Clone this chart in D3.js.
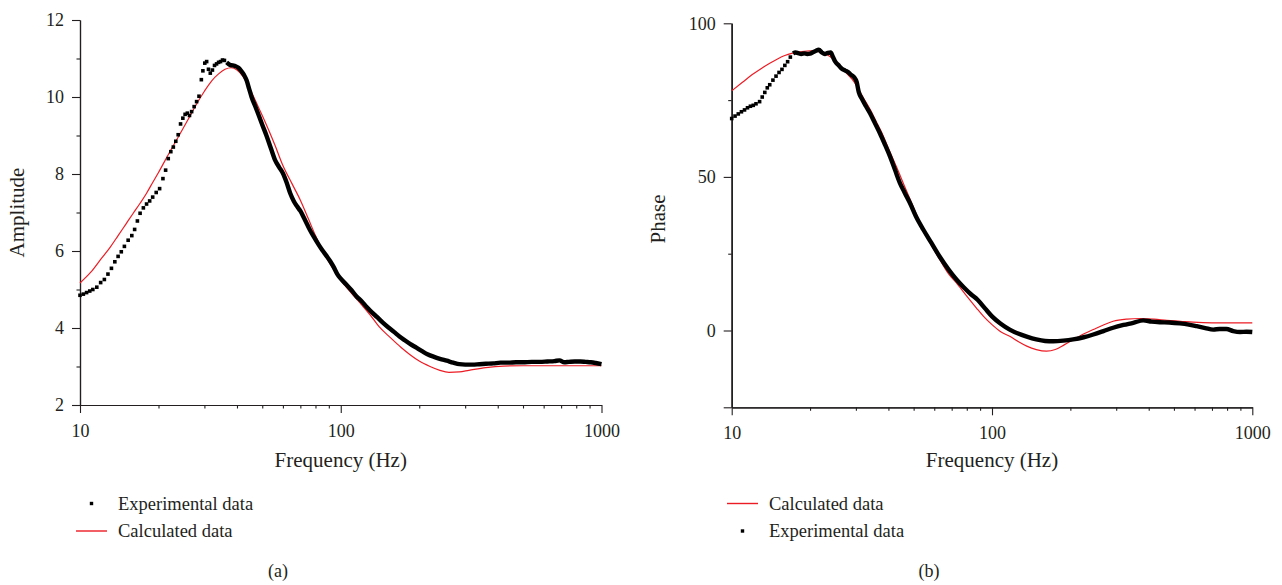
<!DOCTYPE html>
<html>
<head>
<meta charset="utf-8">
<script src="https://cdn.jsdelivr.net/npm/d3@7"></script>
<style>
  body { margin: 0; background: #fff; }
  text { font-family: "Liberation Serif", "DejaVu Serif", serif; fill: #231f20; }
</style>
</head>
<body>
<svg id="chart" width="1282" height="585"></svg>
<script>
// ---- data ----
// (a) amplitude, experimental
const ampExpFreq = [10.0,10.3,10.6,10.9,11.2,11.6,12.0,12.4,12.8,13.2,13.6,14.0,14.4,14.8,15.3,15.8,16.2,16.6,17.0,17.5,18.0,18.5,19.0,19.6,20.2,20.8,21.3,21.8,22.3,22.8,23.3,23.8,24.3,24.8,25.3,25.8,26.3,26.8,27.4,28.0,28.6,29.2,29.6,30.1,30.6,31.1,31.6,32.2,32.8,33.4,34.0,34.6,35.2,35.8,
  36.5,37.5,38.5,39.5,40.5,41.5,42.5,43.5,44.5,45.5,47,48.5,50,52,54,56,58,60,62,64,66,68,70,73,76,79,82,85,88,91,94,97,100,105,110,115,120,126,132,138,145,152,160,168,176,185,195,205,215,228,240,255,270,285,300,320,340,360,385,410,440,470,500,540,580,620,660,690,720,750,790,830,870,910,950,1000];
const ampExpVal = [4.85,4.88,4.92,4.96,5.00,5.06,5.18,5.26,5.40,5.55,5.72,5.86,5.98,6.12,6.28,6.40,6.56,6.78,6.98,7.12,7.22,7.30,7.40,7.52,7.62,7.88,8.10,8.40,8.58,8.70,8.85,9.02,9.30,9.45,9.55,9.58,9.52,9.62,9.75,9.88,10.02,10.45,10.68,10.88,10.92,10.72,10.62,10.70,10.82,10.86,10.90,10.92,10.96,10.95,
  10.90,10.84,10.82,10.80,10.76,10.68,10.58,10.44,10.22,10.00,9.76,9.52,9.28,8.98,8.66,8.36,8.18,8.02,7.78,7.50,7.30,7.16,7.04,6.80,6.56,6.36,6.18,6.02,5.88,5.74,5.58,5.40,5.28,5.13,4.98,4.82,4.70,4.54,4.40,4.28,4.14,4.02,3.90,3.78,3.68,3.58,3.49,3.40,3.32,3.25,3.20,3.15,3.10,3.06,3.05,3.05,3.06,3.07,3.08,3.10,3.10,3.11,3.11,3.12,3.12,3.13,3.14,3.16,3.11,3.12,3.13,3.13,3.12,3.11,3.09,3.06];
// (a) amplitude, calculated
const ampCalcFreq = [10,11,12,13,14,15,16,17,18,19,20,22,24,26,28,30,32,34,36,38,40,42,44,46,48,50,53,56,60,65,70,75,80,85,90,95,100,110,120,130,140,155,170,185,200,220,240,260,285,310,360,420,500,700,1000];
const ampCalcVal = [5.17,5.45,5.78,6.08,6.40,6.70,6.98,7.24,7.50,7.78,8.04,8.55,9.00,9.42,9.82,10.15,10.42,10.60,10.72,10.76,10.70,10.55,10.32,10.05,9.78,9.52,9.13,8.74,8.22,7.75,7.32,6.85,6.40,6.02,5.72,5.46,5.24,4.90,4.61,4.33,4.04,3.75,3.50,3.30,3.14,3.00,2.90,2.85,2.86,2.90,2.97,3.01,3.02,3.02,3.02];

// (b) phase, experimental
const phExpFreq = [10.0,10.3,10.6,10.9,11.2,11.5,11.8,12.1,12.4,12.8,13.1,13.4,13.7,14.0,14.4,14.8,15.2,15.6,16.0,16.4,16.8,
  17.2,17.6,18.0,18.5,19.0,19.5,20.0,20.5,21.0,21.6,22.2,22.8,23.4,24.0,24.5,25.0,25.7,26.5,27.3,28.0,28.8,29.5,30.2,30.8,31.6,32.8,34.0,35.5,37.1,38.8,40.6,42.4,44.3,46.3,48.4,51,54.5,58.5,63,68,73,78,83,88,94,100,108,117,126,136,148,160,172,188,205,225,245,268,292,320,349,381,410,442,480,527,570,611,660,708,750,795,845,897,950,1000];
const phExpVal = [69.0,69.8,70.5,71.2,71.8,72.5,73.0,73.3,73.8,74.5,76.0,77.5,79.0,80.0,81.5,82.8,84.0,85.0,86.3,87.5,89.0,
  90.2,90.5,90.3,90.0,90.2,90.0,90.1,90.6,91.0,91.4,90.5,90.0,90.4,90.5,89.0,87.5,86.4,85.2,84.6,84.1,83.2,82.5,80.9,77.5,75.5,73.0,70.7,67.5,64.2,60.5,56.6,52.3,48.0,44.7,41.5,37.2,32.8,28.5,24.0,19.9,16.6,14.0,11.8,10.0,7.2,4.6,2.2,0.3,-1.0,-2.0,-2.9,-3.4,-3.5,-3.3,-2.9,-2.2,-1.3,-0.2,0.9,1.8,2.5,3.3,2.9,2.7,2.6,2.3,1.9,1.4,0.8,0.3,0.5,0.5,-0.2,-0.5,-0.4,-0.5];
// (b) phase, calculated
const phCalcFreq = [10,11,12,13,14,15,16,17,18,19,20,21,22,23,24,25,26,27,28,29,30,32,34,36,38,40,43,46,50,54,58,63,68,73,80,87,93,100,108,117,126,136,148,162,175,190,211,228,245,268,292,330,370,420,470,530,592,700,800,1000];
const phCalcVal = [78.0,80.8,83.3,85.3,87.0,88.4,89.5,90.2,90.6,90.9,91.0,90.9,90.6,90.0,89.0,87.8,86.4,84.8,83.2,81.8,80.0,75.8,72.0,67.8,63.8,59.3,53.2,47.2,40.0,33.4,28.3,23.1,18.5,15.5,11.2,7.4,4.5,1.9,-0.4,-1.9,-3.6,-5.1,-6.2,-6.7,-6.2,-4.6,-2.4,-0.9,0.3,1.8,3.0,3.7,3.9,3.7,3.3,3.0,2.7,2.5,2.5,2.5];

// ticks
const freqMajor = [10, 100, 1000];
const freqMinor = [20,30,40,50,60,70,80,90,200,300,400,500,600,700,800,900];
const ampMajor = [2, 4, 6, 8, 10, 12];
const ampMinor = [3, 5, 7, 9, 11];
const phMajor = [0, 50, 100];
const phMinor = [25, 75];
const phEdge = [-25];

const RED = "#ec1c24";
const svg = d3.select("#chart");

function panel(opt) {
  const x = d3.scaleLog().domain([10, 1000]).range([opt.left, opt.right]);
  const y = d3.scaleLinear().domain(opt.yDomain).range([opt.bottom, opt.top]);
  const g = svg.append("g");

  // axes
  const fmt = d3.format("d");
  const styleAxis = sel => {
    sel.select(".domain").attr("stroke", "#231f20").attr("stroke-width", 1.2);
    sel.selectAll(".tick line").attr("stroke", "#231f20").attr("stroke-width", 1.1);
    sel.selectAll("text").style("font-size", "18px").attr("fill", "#231f20");
  };
  g.append("g").attr("transform", `translate(0,${opt.bottom})`)
    .call(d3.axisBottom(x).tickValues(freqMinor).tickSize(3.5).tickFormat("").tickSizeOuter(0))
    .call(styleAxis);
  g.append("g").attr("transform", `translate(0,${opt.bottom})`)
    .call(d3.axisBottom(x).tickValues(freqMajor).tickSize(8).tickPadding(11).tickFormat(fmt).tickSizeOuter(0))
    .call(styleAxis);
  g.append("g").attr("transform", `translate(${opt.left},0)`)
    .call(d3.axisLeft(y).tickValues(opt.yMinor).tickSize(3.5).tickFormat("").tickSizeOuter(0))
    .call(styleAxis);
  if (opt.yEdge) {
    g.append("g").attr("transform", `translate(${opt.left},0)`)
      .call(d3.axisLeft(y).tickValues(opt.yEdge).tickSize(8).tickFormat("").tickSizeOuter(0))
      .call(styleAxis);
  }
  g.append("g").attr("transform", `translate(${opt.left},0)`)
    .call(d3.axisLeft(y).tickValues(opt.yMajor).tickSize(8).tickPadding(8).tickFormat(fmt).tickSizeOuter(0))
    .call(styleAxis);

  // labels
  g.append("text").attr("x", (opt.left + opt.right) / 2).attr("y", 467)
    .attr("text-anchor", "middle").style("font-size", "21px").text("Frequency (Hz)");
  g.append("text")
    .attr("transform", `translate(${opt.yLabelX},${opt.yLabelY}) rotate(-90)`)
    .attr("text-anchor", "middle").style("font-size", "21px").text(opt.yLabel);

  // calculated curve
  const calc = opt.calcFreq.map((f, i) => [f, opt.calcVal[i]]);
  g.append("path").datum(calc)
    .attr("fill", "none").attr("stroke", RED).attr("stroke-width", 1.2)
    .attr("d", d3.line().curve(d3.curveMonotoneX).x(d => x(d[0])).y(d => y(d[1])));

  // experimental points: separate squares where sparse, dense run where they merge
  const exp = opt.expFreq.map((f, i) => [f, opt.expVal[i]]);
  const dense = exp.filter(d => d[0] >= opt.denseFrom);
  g.append("path").datum(dense)
    .attr("fill", "none").attr("stroke", "#000").attr("stroke-width", 4.4)
    .attr("stroke-linejoin", "round")
    .attr("d", d3.line().curve(d3.curveMonotoneX).x(d => x(d[0])).y(d => y(d[1])));
  g.selectAll("rect.pt").data(exp.filter(d => d[0] < opt.denseFrom)).enter().append("rect")
    .attr("class", "pt")
    .attr("x", d => x(d[0]) - 1.8).attr("y", d => y(d[1]) - 1.8)
    .attr("width", 3.6).attr("height", 3.6).attr("fill", "#000");

  // legend
  opt.legend.forEach((item, i) => {
    const ly = 503.5 + i * 27.5;
    if (item.type === "line") {
      g.append("line").attr("x1", opt.legendX).attr("x2", opt.legendX + 31)
        .attr("y1", ly).attr("y2", ly).attr("stroke", RED).attr("stroke-width", 1.4);
    } else {
      g.append("rect").attr("x", opt.legendX + 15.5 - 1.7).attr("y", ly - 1.7)
        .attr("width", 3.4).attr("height", 3.4).attr("fill", "#000");
    }
    g.append("text").attr("x", opt.legendX + 42).attr("y", ly + 6)
      .style("font-size", "18.5px").text(item.name);
  });

  g.append("text").attr("x", opt.tagX).attr("y", 577)
    .attr("text-anchor", "middle").style("font-size", "18px").text(opt.tag);
}

panel({
  left: 80, right: 601.5, top: 20, bottom: 405,
  yDomain: [2, 12], yMajor: ampMajor, yMinor: ampMinor,
  yLabel: "Amplitude", yLabelX: 24, yLabelY: 212.5,
  expFreq: ampExpFreq, expVal: ampExpVal, denseFrom: 36,
  calcFreq: ampCalcFreq, calcVal: ampCalcVal,
  legendX: 76,
  legend: [{type: "square", name: "Experimental data"}, {type: "line", name: "Calculated data"}],
  tagX: 278, tag: "(a)"
});

panel({
  left: 731.7, right: 1252.3, top: 23.3, bottom: 407.3,
  yDomain: [-25, 100], yMajor: phMajor, yMinor: phMinor, yEdge: phEdge,
  yLabel: "Phase", yLabelX: 665, yLabelY: 219,
  expFreq: phExpFreq, expVal: phExpVal, denseFrom: 17,
  calcFreq: phCalcFreq, calcVal: phCalcVal,
  legendX: 727,
  legend: [{type: "line", name: "Calculated data"}, {type: "square", name: "Experimental data"}],
  tagX: 929, tag: "(b)"
});
</script>
</body>
</html>
